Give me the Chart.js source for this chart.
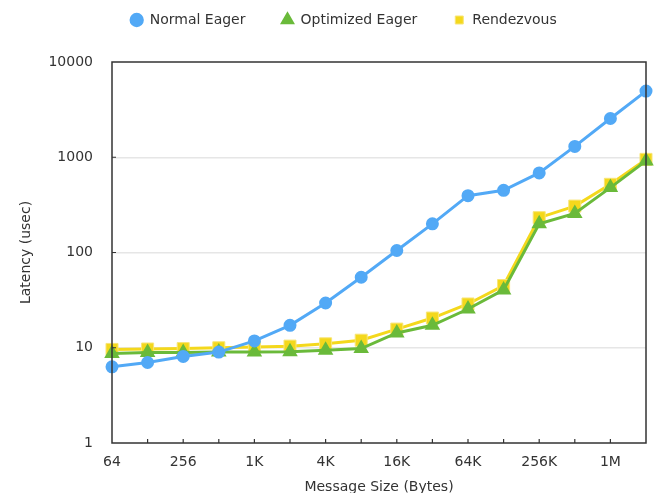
<!DOCTYPE html>
<html>
<head>
<meta charset="utf-8">
<script src="https://cdn.jsdelivr.net/npm/chart.js@4/dist/chart.umd.min.js"></script>
<style>
    html, body { margin: 0; padding: 0; background: #fff; overflow: hidden; }
    #wrap { width: 659px; height: 493px; overflow: hidden; }
</style>
</head>
<body>
<div id="wrap"><canvas id="latencyChart" width="659" height="500"></canvas></div>
<script>
// Data
const messageSizes = ['64', '128', '256', '512', '1K', '2K', '4K', '8K', '16K', '32K', '64K', '128K', '256K', '512K', '1M', '2M'];
const normalEager = [6.3, 7.0, 8.1, 9.0, 11.8, 17.2, 29.5, 55, 105, 200, 395, 450, 685, 1300, 2550, 4950];
const optimizedEager = [8.7, 8.9, 8.9, 9.0, 9.0, 9.1, 9.4, 9.8, 14.3, 17.2, 25.5, 40.5, 200, 257, 480, 915];
const rendezvous = [9.6, 9.7, 9.8, 10.0, 10.2, 10.4, 11.0, 12.0, 15.7, 20.5, 28.8, 45, 232, 307, 520, 950];
const yTicks = [1, 10, 100, 1000, 10000];

const FONT = "'DejaVu Sans', sans-serif";
const TEXT_COLOR = '#333';

// Legend placement: fixed height, items shifted to match the original
const legendPlacement = {
    id: 'legendPlacement',
    beforeInit(chart) {
        const fit = chart.legend.fit;
        chart.legend.fit = function () {
            fit.call(this);
            this.height = 62;
        };
    },
    afterLayout(chart) {
        chart.legend.top = -23;
        chart.legend.left = 94.7;
    }
};

// Frame round the plot plus small inward tick marks
const plotFrame = {
    id: 'plotFrame',
    afterDatasetsDraw(chart) {
        const { ctx, chartArea: a, scales: { x, y } } = chart;
        ctx.save();
        ctx.strokeStyle = '#333';
        ctx.lineWidth = 1.5;
        ctx.strokeRect(a.left, a.top, a.right - a.left, a.bottom - a.top);
        ctx.lineWidth = 1.2;
        ctx.beginPath();
        for (let i = 1; i < messageSizes.length - 1; i++) {
            const px = x.getPixelForValue(i);
            ctx.moveTo(px, a.bottom);
            ctx.lineTo(px, a.bottom - 4);
        }
        [10, 100, 1000].forEach(v => {
            const py = y.getPixelForValue(v);
            ctx.moveTo(a.left, py);
            ctx.lineTo(a.left + 4, py);
        });
        ctx.stroke();
        ctx.restore();
    }
};

const ctx = document.getElementById('latencyChart').getContext('2d');
new Chart(ctx, {
    type: 'line',
    data: {
        labels: messageSizes,
        datasets: [
            {
                label: 'Normal Eager',
                data: normalEager,
                borderColor: '#52a9f6',
                backgroundColor: '#52a9f6',
                pointBackgroundColor: '#52a9f6',
                pointBorderColor: '#52a9f6',
                pointStyle: 'circle',
                pointRadius: 5,
                borderWidth: 3,
                clip: false
            },
            {
                label: 'Optimized Eager',
                data: optimizedEager,
                borderColor: '#6aba3a',
                backgroundColor: '#6aba3a',
                pointBackgroundColor: '#6aba3a',
                pointBorderColor: '#6aba3a',
                pointStyle: 'triangle',
                pointRadius: 6,
                borderWidth: 3,
                clip: false
            },
            {
                label: 'Rendezvous',
                data: rendezvous,
                borderColor: '#f4d81c',
                backgroundColor: '#f4d81c',
                pointBackgroundColor: '#f4d81c',
                pointBorderColor: '#f8e577',
                pointStyle: 'rect',
                pointRadius: 8.5,
                pointBorderWidth: 1,
                borderWidth: 3,
                clip: false
            }
        ]
    },
    options: {
        responsive: false,
        animation: false,
        devicePixelRatio: 1,
        layout: { padding: { left: 0, right: 13, top: 0, bottom: 4 } },
        plugins: {
            tooltip: { enabled: false },
            legend: {
                position: 'top',
                align: 'start',
                labels: {
                    usePointStyle: true,
                    boxWidth: 12,
                    boxHeight: 8,
                    padding: 36,
                    color: TEXT_COLOR,
                    font: { family: FONT, size: 14 }
                }
            }
        },
        scales: {
            x: {
                type: 'category',
                offset: false,
                grid: { display: false, drawTicks: false },
                border: { display: false },
                ticks: {
                    autoSkip: false,
                    maxRotation: 0,
                    padding: 11,
                    color: TEXT_COLOR,
                    font: { family: FONT, size: 14 },
                    callback: (value, index) => index % 2 === 0 && index < messageSizes.length - 1 ? messageSizes[index] : ''
                },
                title: {
                    display: true,
                    text: 'Message Size (Bytes)',
                    color: TEXT_COLOR,
                    font: { family: FONT, size: 14 },
                    padding: { top: 0, bottom: 0 }
                },
                afterFit: scale => { scale.height = 53; }
            },
            y: {
                type: 'logarithmic',
                min: 1,
                max: 10000,
                afterBuildTicks: scale => {
                    scale.ticks = yTicks.map(v => ({ value: v }));
                },
                grid: {
                    drawTicks: false,
                    lineWidth: 1.5,
                    color: c => (c.tick && [10, 100, 1000].includes(c.tick.value)) ? '#e6e6e6' : 'rgba(0,0,0,0)'
                },
                border: { display: false },
                ticks: {
                    padding: 19,
                    color: TEXT_COLOR,
                    font: { family: FONT, size: 14 },
                    callback: value => String(value)
                },
                title: {
                    display: true,
                    text: 'Latency (usec)',
                    color: TEXT_COLOR,
                    font: { family: FONT, size: 14 },
                    padding: { top: 18, bottom: 0 }
                },
                afterFit: scale => { scale.width = 112; }
            }
        }
    },
    plugins: [legendPlacement, plotFrame]
});
</script>
</body>
</html>
